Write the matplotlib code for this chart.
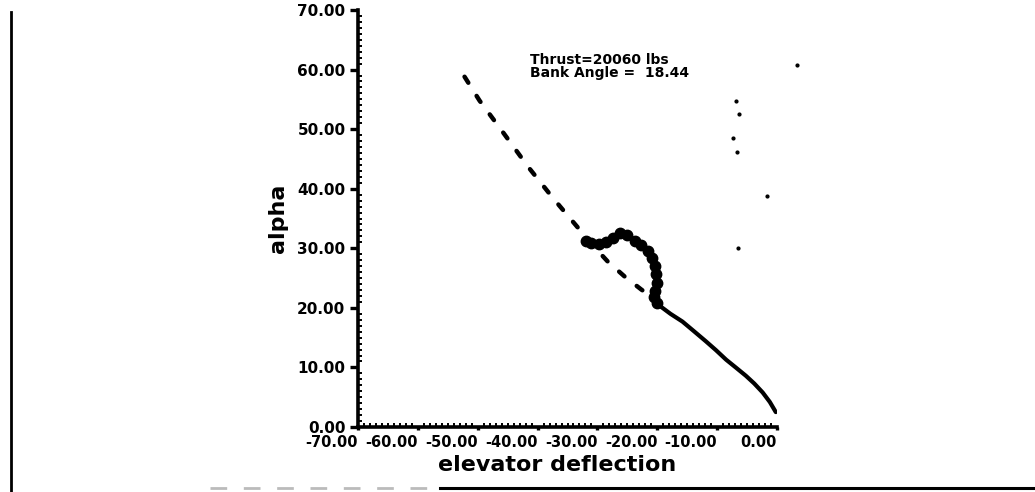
import matplotlib
matplotlib.use("Agg")
import matplotlib.pyplot as plt
from matplotlib.lines import Line2D
from matplotlib.ticker import MultipleLocator, FormatStrFormatter

# branche stable (trait plein)
STABLE_E = [-20.5, -19.4, -17.8, -15.8, -13.9, -11.9, -10.2, -8.5, -6.9, -5.2, -3.8, -2.4, -1.2, -0.2]
STABLE_A = [22.0, 20.2, 19.0, 17.7, 16.1, 14.4, 12.9, 11.3, 10.0, 8.6, 7.3, 5.8, 4.2, 2.5]

# branche instable (tirets)
INSTABLE_E = [-52.2, -49.7, -45.8, -41.6, -37.4, -32.7, -30.5, -28.3, -25.5, -22.7, -20.5]
INSTABLE_A = [58.8, 54.8, 49.5, 43.7, 38.4, 32.8, 30.2, 27.8, 25.3, 23.1, 21.5]

# trajectoire (points epais)
TRAJ_E = [-31.9, -31.0, -29.8, -28.6, -27.4, -26.2, -25.0, -23.8, -22.8, -21.6,
          -20.8, -20.4, -20.2, -20.1, -20.3, -20.5, -20.0]
TRAJ_A = [31.2, 30.9, 30.8, 31.0, 31.7, 32.5, 32.2, 31.2, 30.5, 29.5,
          28.3, 27.0, 25.6, 24.2, 22.8, 21.8, 20.8]

# taches isolees du scan
TACHES_E = [3.3, -6.8, -6.3, -7.3, -6.7, -1.7, -6.5]
TACHES_A = [60.8, 54.8, 52.5, 48.5, 46.2, 38.7, 30.0]

XTICKS = [-70, -60, -50, -40, -30, -20, -10, 0]
YTICKS = [0, 10, 20, 30, 40, 50, 60, 70]

NOIR = "black"

fig = plt.figure(figsize=(10.35, 4.92), dpi=100)
ax = fig.add_axes([358 / 1035, 65 / 492, 419 / 1035, 417 / 492])

ax.plot(INSTABLE_E, INSTABLE_A, color=NOIR, lw=3.2, dashes=(1.6, 3.5),
        dash_capstyle="round")
ax.plot(STABLE_E, STABLE_A, color=NOIR, lw=3.0, solid_capstyle="round")
ax.plot(TRAJ_E, TRAJ_A, color=NOIR, lw=4, marker="o", ms=7.5)
ax.plot(TACHES_E, TACHES_A, ls="none", marker="o", ms=2, color=NOIR, clip_on=False)

ax.set_xlim(-70, 0)
ax.set_ylim(0, 70)
ax.set_xticks(XTICKS)
ax.set_yticks(YTICKS)
ax.xaxis.set_major_formatter(FormatStrFormatter("%.2f"))
ax.yaxis.set_major_formatter(FormatStrFormatter("%.2f"))
ax.xaxis.set_minor_locator(MultipleLocator(1))
ax.yaxis.set_minor_locator(MultipleLocator(1))

for s in ("top", "right"):
    ax.spines[s].set_visible(False)
for s in ("left", "bottom"):
    ax.spines[s].set_linewidth(2.6)

ax.tick_params(which="major", axis="y", direction="out", length=6, width=2.4, pad=3,
               labelsize=11)
ax.tick_params(which="major", axis="x", direction="out", length=2, width=2.4, pad=4,
               labelsize=10.5)
ax.tick_params(which="minor", direction="in", length=3, width=1.4)
for lab in ax.get_xticklabels():
    lab.set_fontweight("bold")
    lab.set_ha("right")
for lab in ax.get_yticklabels():
    lab.set_fontweight("bold")

ax.set_xlabel("elevator deflection", fontsize=16, fontweight="bold")
ax.set_ylabel("alpha", fontsize=16, fontweight="bold")
ax.xaxis.set_label_coords(0.475, -0.068)
ax.yaxis.set_label_coords(-0.168, 0.50)

ax.text(-41.3, 62.8, "Thrust=20060 lbs\nBank Angle =  18.44", fontsize=10,
        fontweight="bold", va="top", ha="left", linespacing=0.95)

# cadre du document scanne
fig.add_artist(Line2D([11 / 1035, 11 / 1035], [0, 480 / 492], color=NOIR, lw=2))
fig.add_artist(Line2D([210 / 1035, 440 / 1035], [4 / 492, 4 / 492], color="#bbbbbb",
                      lw=2, dashes=(6, 6)))
fig.add_artist(Line2D([440 / 1035, 1], [4 / 492, 4 / 492], color=NOIR, lw=2.2))

fig.savefig("out.png", dpi=100)
